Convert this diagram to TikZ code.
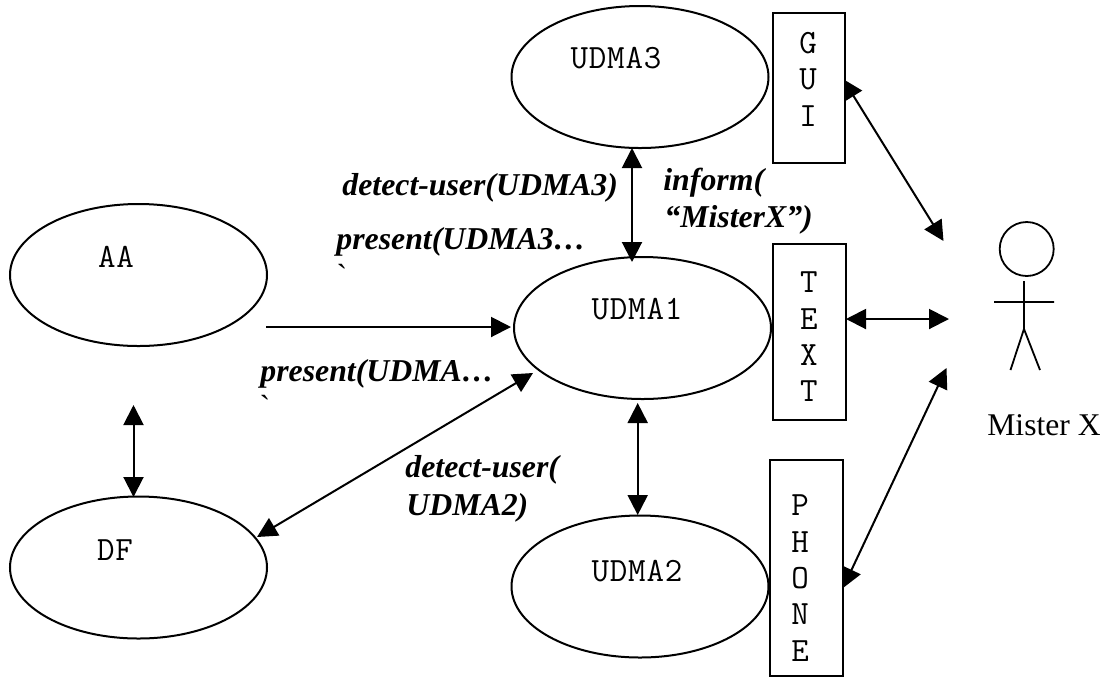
\documentclass[tikz,border=0pt]{standalone}
\usepackage{fontspec}
\setmainfont{Liberation Serif}
\setmonofont[LetterSpace=2.2]{Latin Modern Mono}
\newfontfamily\tickfont{Liberation Serif}
\usetikzlibrary{arrows.meta,shapes.geometric,backgrounds}
\tikzset{x=0.5pt,y=-0.5pt,
  blob/.style={draw,ellipse,line width=1pt,inner sep=0pt,minimum width=128.5pt,minimum height=71pt},
  lane/.style={draw,fill=white,line width=1pt,rectangle,inner sep=0pt},
  lab/.style={font=\fontsize{15.9pt}{18pt}\selectfont\bfseries\itshape,anchor=base west,inner sep=0pt},
  mono/.style={font=\fontsize{17pt}{18.2pt}\selectfont\ttfamily,inner sep=0pt,anchor=base},
  monocol/.style={font=\fontsize{17pt}{18.2pt}\selectfont\ttfamily,inner sep=0pt,align=center},
  tick/.style={font=\fontsize{16pt}{18pt}\tickfont,inner sep=0pt},
  conn/.style={line width=1pt,-{Triangle[length=10pt,width=10pt]}},
  both/.style={line width=1pt,{Triangle[length=10pt,width=10pt]}-{Triangle[length=10pt,width=10pt]}},
  stick/.style={line width=0.9pt}}
\begin{document}
\begin{tikzpicture}
\useasboundingbox (0,0) rectangle (1105,677);
\node[blob] (u3) at (640,77) {};
\node[mono] (lu3) at (616,68) {UDMA3};
\node[blob] (aa) at (138.5,275) {};
\node[mono] (laa) at (116,267) {AA};
\node[blob] (u1) at (642.5,328) {};
\node[mono] (lu1) at (637,319) {UDMA1};
\node[blob] (df) at (138.5,567.5) {};
\node[mono] (ldf) at (115,560) {DF};
\node[blob] (u2) at (640,586.5) {};
\node[mono] (lu2) at (637,581) {UDMA2};
\node[lane,minimum width=36pt,minimum height=75pt] (gui) at (809,88) {};
\node[lane,minimum width=36.5pt,minimum height=88pt] (text) at (809.5,332) {};
\node[lane,minimum width=36.5pt,minimum height=108pt] (phone) at (806.5,568) {};
\node[monocol] (lg) at (808,79) {G\\U\\I};
\node[monocol] (lt) at (809,337) {T\\E\\X\\T};
\node[monocol] (lp) at (800,578) {P\\H\\O\\N\\E};
% stick figure
\node[draw,circle,line width=0.9pt,minimum size=27pt,inner sep=0pt] (head) at (1026.7,249) {};
\coordinate (neck) at (1024,281);
\coordinate (hip) at (1024,329);
\coordinate (armL) at (994,302);
\coordinate (armR) at (1054,302);
\coordinate (footL) at (1010.5,370);
\coordinate (footR) at (1040,370);
\draw[stick] (neck) -- (hip) (armL) -- (armR) (hip) -- (footL) (hip) -- (footR);
\node[font=\fontsize{15.8pt}{18pt}\selectfont,anchor=base west,inner sep=0pt] (mx) at (987,435) {Mister X};
% connector ends
\coordinate (x1) at (943.5,241);
\coordinate (x2) at (949,319);
\coordinate (x3) at (946.5,368);
\coordinate (a1) at (266,327);
\coordinate (a2) at (511,327);
\coordinate (g1) at (843,79);
\coordinate (t1) at (846,319);
\coordinate (p1) at (843,588);
\coordinate (d1t) at (133.5,405);
\coordinate (d1b) at (133.5,497);
\coordinate (b1) at (533,373);
\coordinate (b2) at (257,537);
\coordinate (u3b) at (632,148);
\coordinate (u1t) at (632,262);
\coordinate (u1b) at (637.7,403);
\coordinate (u2t) at (637.7,515);
\begin{scope}[on background layer]
\draw[conn] (a1) -- (a2);
\draw[both] (u3b) -- (u1t);
\draw[both] (u1b) -- (u2t);
\draw[both] (b1) -- (b2);
\draw[both] (d1t) -- (d1b);
\draw[both] (g1) -- (x1);
\draw[both] (t1) -- (x2);
\draw[both] (p1) -- (x3);
\end{scope}
\node[lab] (l1) at (342,195) {detect-user(UDMA3)};
\node[lab] (l2) at (336,249) {present(UDMA3…};
\node[lab] (l3) at (260,381) {present(UDMA…};
\node[lab] (l4) at (663,190) {inform(};
\node[lab] (l5) at (664,227) {“MisterX”)};
\node[lab] (l6) at (405,477) {detect-user(};
\node[lab] (l7) at (406,515) {UDMA2)};
\node[tick] (t1a) at (342,275) {\char96};
\node[tick] (t2a) at (265,406) {\char96};
\end{tikzpicture}
\end{document}
